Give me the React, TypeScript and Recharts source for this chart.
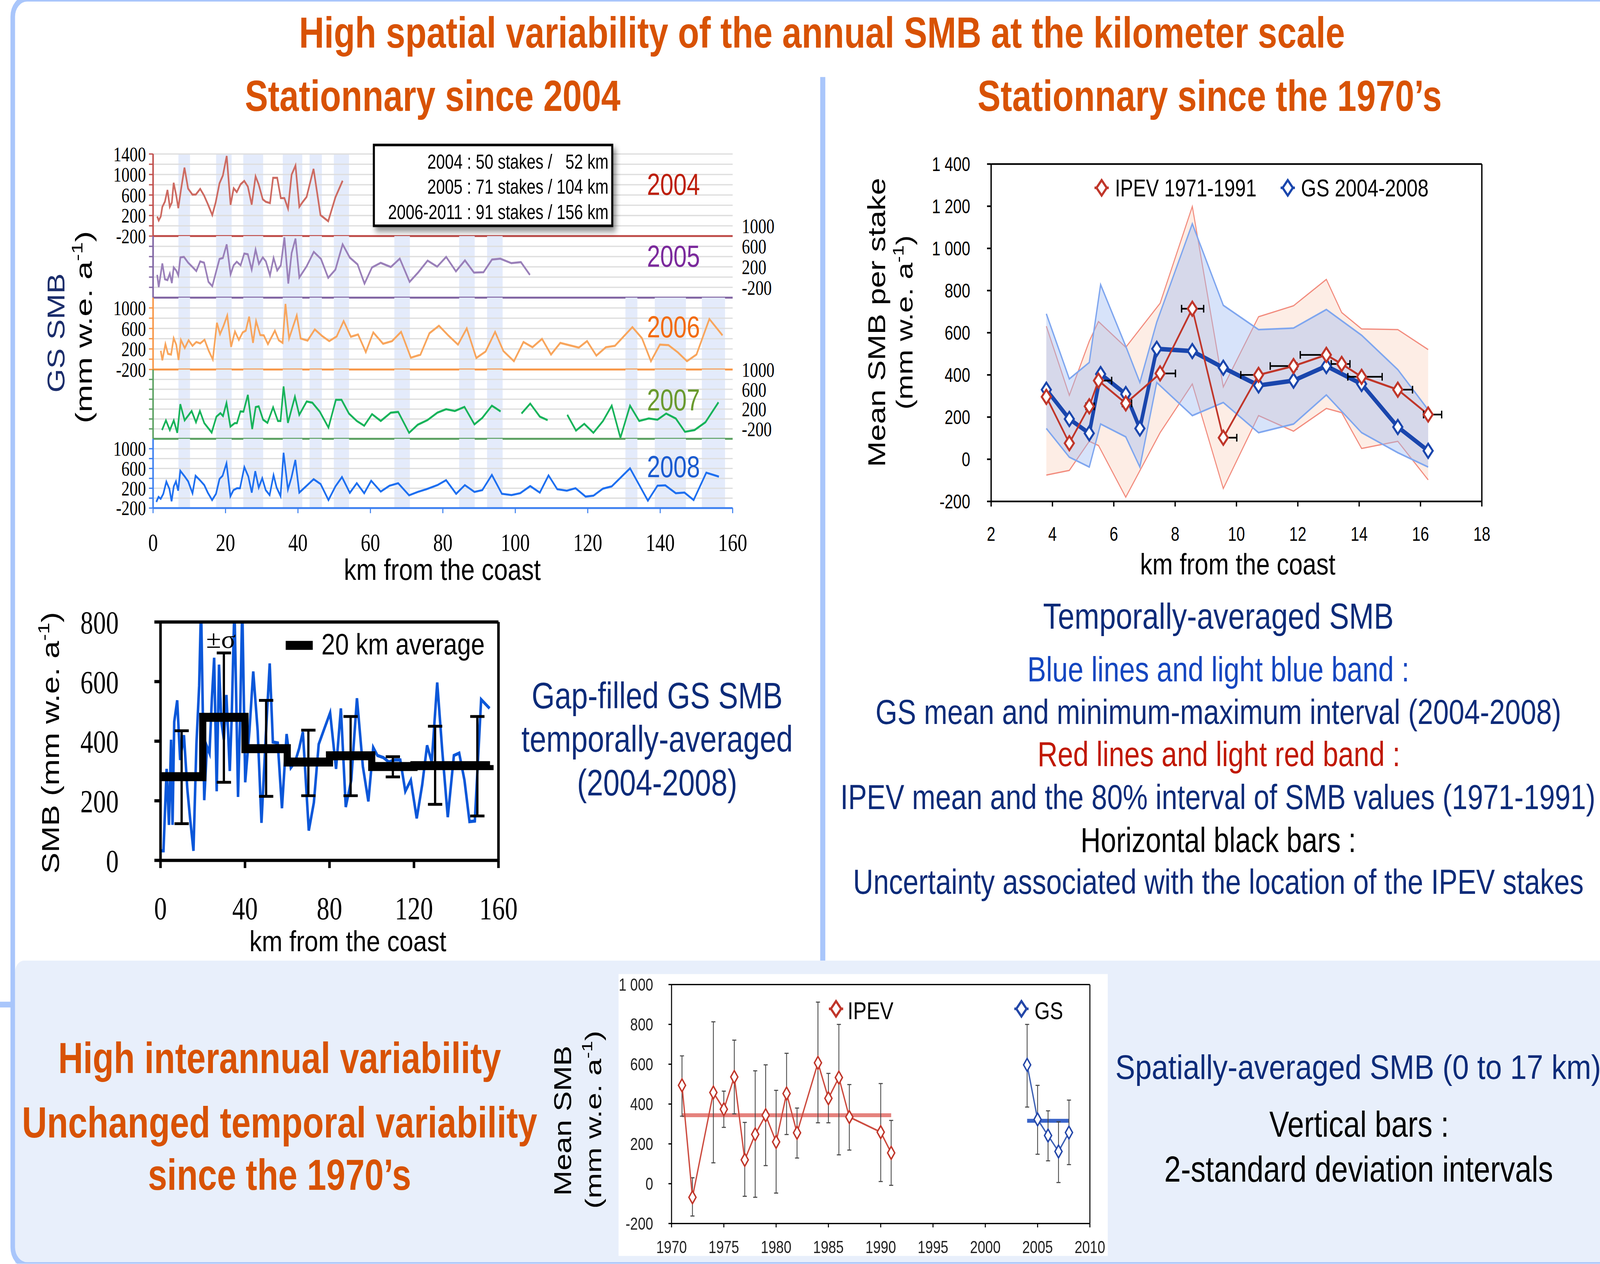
import React from "react";
import {
  Area,
  ComposedChart,
  ErrorBar,
  Line,
  LineChart,
  ReferenceArea,
  ReferenceLine,
  Scatter,
  XAxis,
  YAxis,
} from "recharts";

// the poster is laid out on a 1568 x 985 grid and scaled up to the window
const BASE_W = 1568;
const BASE_H = 985.2;
const SANS = '"Liberation Sans", Arial, Helvetica, sans-serif';
const SERIF = '"Liberation Serif", "Times New Roman", Times, serif';
const ORANGE = "#d85204";
const NAVY = "#0c2b79";
const FRAME = "#a9c6fb";
const BAND = "#e4ebfb";

// ---- GS stake profiles (km from the coast / SMB mm w.e. a-1)
const km2004 = [1.14, 1.56, 2.13, 2.56, 3.27, 3.98, 4.62, 5.19, 5.69, 6.4, 6.97, 7.68, 8.67, 9.67, 10.88, 11.8, 13.01, 14.08, 15.14, 16.35, 17.28, 18.34, 19.27, 20.33, 21.4, 22.25, 23.11, 24.17, 25.17, 26.16, 27.23, 28.3, 29.15, 30.29, 31.14, 32.28, 33.13, 34.27, 35.27, 36.26, 37.26, 38.25, 39.32, 40.38, 41.38, 42.38, 44.3, 46.22, 48.35, 50.34, 52.33];
const smb2004 = [182, 104, 182, 369, 471, 698, 369, 454, 838, 590, 345, 691, 1133, 725, 607, 610, 719, 590, 420, 209, 454, 827, 980, 1361, 410, 732, 658, 810, 875, 766, 413, 963, 807, 515, 467, 443, 936, 936, 539, 539, 335, 997, 1174, 369, 471, 562, 1109, 209, 90, 556, 878];

const km2005 = [1.14, 1.56, 2.56, 3.27, 3.98, 4.62, 5.19, 5.69, 6.4, 6.97, 7.54, 8.53, 9.67, 10.88, 11.94, 13.01, 14.08, 15.29, 16.35, 17.49, 18.34, 19.27, 20.33, 21.4, 22.25, 23.11, 24.17, 25.17, 26.16, 27.23, 28.3, 29.22, 30.29, 31.14, 32.28, 33.27, 34.27, 35.27, 36.26, 37.33, 38.25, 39.32, 40.38, 42.38, 44.37, 46.36, 48.35, 50.34, 52.33, 54.32, 56.45, 58.37, 60.44, 62.85, 65.63, 68.11, 70.82, 73.23, 75.79, 78.42, 80.91, 83.61, 86.1, 88.59, 91.22, 93.57, 95.85, 98.91, 101.54, 104.03];
const smb2005 = [44, -194, 265, -41, -58, 68, -116, 190, 129, 34, 384, 394, 282, 197, 119, 306, 282, -92, -177, 129, 353, 373, 638, 54, 231, 299, 231, 458, 445, 146, 536, 258, 384, 306, 34, 373, 129, 231, 774, -126, 469, 751, -7, 210, 492, 353, -14, 146, 638, 380, 248, -126, 190, 278, 197, 360, -92, 95, 322, 204, 394, 112, 326, 88, 95, 343, 360, 272, 292, 44];

const km2006 = [2.13, 2.56, 3.41, 4.12, 4.98, 5.69, 6.4, 7.04, 7.68, 8.75, 9.81, 10.88, 11.94, 13.01, 14.22, 15.36, 16.49, 17.63, 18.49, 19.41, 20.48, 21.54, 22.61, 23.68, 24.74, 25.6, 26.52, 27.59, 28.44, 29.58, 30.57, 31.71, 33.63, 34.7, 35.76, 36.55, 37.54, 39.67, 40.74, 42.66, 44.65, 46.64, 48.63, 50.69, 52.61, 54.6, 56.6, 58.73, 60.79, 63.49, 65.98, 68.47, 71.17, 73.8, 76.29, 78.92, 81.62, 84.18, 86.6, 89.23, 91.79, 94.42, 96.71, 99.62, 102.25, 104.74, 107.37, 109.86, 112.42, 114.83, 117.53, 119.81, 122.37, 125.0, 127.49, 132.32, 134.95, 137.44, 139.92, 142.27, 144.9, 147.39, 150.02, 153.57, 157.2];
const smb2006 = [166, -21, 295, 105, 92, 411, 285, -14, 377, 217, 370, 261, 336, 309, 380, 166, -4, 710, 489, 642, 853, 241, 540, 377, 523, 557, 829, 319, 744, 472, 465, 295, 557, 370, 319, 1077, 404, 853, 404, 363, 581, 455, 353, 445, 744, 438, 482, 139, 523, 302, 353, 533, 30, 88, 506, 652, 455, 285, 601, 24, 149, 533, 159, -38, 336, 234, 397, 92, 319, 275, 227, 353, 71, 234, 261, 625, 411, -38, 285, 275, 132, -38, 92, 784, 465];

const km2007 = [2.47, 3.55, 4.63, 5.72, 6.68, 7.52, 8.72, 10.65, 11.85, 12.93, 14.14, 16.18, 17.5, 18.59, 19.31, 20.27, 21.35, 22.56, 23.16, 24.12, 24.96, 26.17, 27.37, 28.33, 29.17, 30.38, 31.58, 33.14, 34.47, 35.19, 36.03, 37.23, 39.16, 40.36, 42.41, 43.97, 46.02, 48.42, 50.47, 52.03, 54.08, 56.24, 58.29, 60.45, 62.86, 65.62, 67.67, 70.68, 73.08, 75.73, 78.5, 80.9, 83.31, 85.96, 88.72, 90.89, 93.53, 95.94, 98.8, 101.71, 104.12, 106.77, 108.93, 111.6, 114.35, 116.75, 119.04, 121.56, 124.21, 126.62, 129.02, 131.67, 134.2, 136.84, 139.25, 141.65, 144.3, 146.83, 149.47, 152.48, 156.09];
const smb2007 = [-224, -28, -224, -28, -279, 299, -28, 161, -66, 161, -83, -274, 48, 118, 60, 324, -154, -83, -83, 153, 148, 487, -204, 241, 254, -15, -78, 236, -40, -40, 657, -78, 450, 85, 354, 329, 148, -174, 387, 387, 110, -40, -136, 98, -40, 128, 143, -279, -116, -23, 128, 198, 161, 244, -108, 22, 269, 153, null, 110, 311, 48, -23, null, 85, -234, -98, -279, -40, 269, -380, 269, -40, 10, -15, 110, 10, -259, -224, -66, 337];

const km2008 = [0.9, 1.51, 2.11, 2.83, 3.67, 4.51, 5.11, 5.72, 6.32, 6.92, 7.52, 8.72, 9.69, 10.89, 11.73, 12.93, 14.14, 15.1, 16.3, 17.38, 18.35, 19.19, 20.27, 21.35, 22.2, 23.16, 24.0, 25.2, 26.29, 27.25, 28.21, 29.17, 30.14, 31.1, 32.18, 33.26, 34.11, 35.19, 36.03, 37.23, 38.2, 39.28, 40.36, 42.41, 44.33, 46.26, 48.42, 50.35, 52.15, 54.32, 56.24, 58.29, 60.21, 62.86, 65.26, 67.67, 70.68, 73.08, 75.49, 78.5, 80.9, 83.67, 86.07, 88.72, 90.89, 93.53, 96.3, 98.95, 101.35, 104.12, 106.77, 109.17, 111.58, 114.23, 116.63, 119.4, 121.56, 124.21, 126.62, 131.67, 136.6, 139.25, 141.41, 144.3, 146.7, 149.23, 152.72, 156.21];
const smb2008 = [-76, 25, -13, 88, 334, 188, -63, 239, 339, 151, 553, 440, 339, 100, 452, 364, 264, 113, -38, 88, 389, 452, 704, 38, 163, 201, 201, 628, 440, 113, 545, 214, 402, 163, 63, 465, 214, 43, 917, 176, 415, 772, 113, 251, 384, 284, -38, 239, 427, 108, 302, 100, 352, 133, 251, 302, 58, 126, 181, 264, 364, 88, 264, 126, 163, 470, 88, 63, 100, 244, 113, 460, 181, 151, 201, 32, 50, 193, 239, 603, -50, 251, 259, 100, 113, -38, 515, 435];

const kmTicks = [0, 20, 40, 60, 80, 100, 120, 140, 160];
// shaded stretches of the traverse (km)
const bandsAll = [[7.0, 10.2], [17.4, 21.7], [24.9, 30.4], [35.8, 41.2], [43.2, 46.6], [49.9, 54.1]];
const bands2005 = [[66.6, 70.9], [84.5, 88.8], [92.2, 96.5]];
const bands2006 = [[130.4, 133.7], [138.5, 147.1], [151.5, 157.9]];

// ---- gap-filled, temporally averaged GS SMB
const kmGap = [0.3, 1.4, 2.9, 4.0, 5.0, 5.7, 6.5, 7.9, 9.3, 11.1, 12.7, 14.1, 15.6, 17.0, 18.3, 19.2, 20.7, 22.0, 23.2, 24.3, 25.4, 26.6, 27.7, 28.8, 30.0, 31.2, 32.8, 33.7, 35.0, 36.7, 37.7, 38.7, 40.1, 42.1, 43.9, 46.0, 47.8, 49.8, 51.7, 53.2, 55.5, 57.5, 59.7, 61.7, 63.7, 65.6, 67.4, 70.2, 72.6, 74.9, 77.2, 80.3, 83.1, 85.4, 87.7, 90.3, 93.0, 95.8, 98.4, 100.7, 102.7, 105.5, 108.1, 110.8, 113.5, 115.9, 118.5, 121.3, 123.9, 126.2, 128.4, 131.0, 133.4, 136.0, 138.9, 141.4, 143.9, 146.3, 148.8, 151.8, 155.8];
const smbGap = [32, 32, 307, 119, 405, 119, 465, 537, 337, 420, 239, 134, 32, 390, 586, 860, 202, 382, 360, 540, 680, 232, 657, 465, 405, 555, 300, 480, 860, 213, 480, 860, 262, 435, 634, 435, 126, 412, 661, 397, 394, 175, 424, 311, 330, 375, 431, 100, 194, 390, 435, 495, 307, 510, 179, 269, 544, 315, 198, 379, 352, 345, 330, 337, 337, 232, 269, 141, 254, 386, 330, 597, 367, 145, 352, 360, 269, 130, 132, 540, 510];
const stepKm = [0, 20, 40, 60, 80, 100, 120, 156];
const stepSmb = [281, 480, 375, 330, 351, 315, 318, 320];
const sigmaKm = [10, 30, 50, 70, 90, 110, 130, 150];
const sigmaLow = [123, 262, 215, 217, 217, 280, 188, 149];
const sigmaHigh = [435, 696, 537, 437, 483, 348, 450, 483];

// ---- IPEV (1971-1991) vs GS (2004-2008) per stake
const ipevKm = [3.8, 4.55, 5.2, 5.5, 6.39, 7.51, 8.56, 9.57, 10.72, 11.86, 12.93, 13.43, 14.08, 15.26, 16.25];
const ipevMean = [296, 76, 251, 373, 265, 407, 714, 102, 400, 442, 495, 452, 391, 330, 212];
const ipevP10 = [-75, -53, 85, 65, -180, 126, 357, -139, 207, 133, 241, 221, 51, 85, -98];
const ipevP90 = [631, 303, 560, 653, 531, 740, 1199, 343, 676, 728, 853, 696, 618, 615, 520];
const ipevKmLo = [null, null, 5.09, 5.43, 6.28, 7.42, 8.21, 9.51, 10.14, 11.1, 12.08, 13.09, 13.63, 15.26, 16.1];
const ipevKmHi = [null, null, 5.36, 5.93, 6.58, 8.01, 8.93, 10.01, 10.79, 11.97, 13.0, 13.7, 14.75, 15.74, 16.69];
const gsKm = [3.8, 4.55, 5.2, 5.57, 6.39, 6.85, 7.4, 8.56, 9.57, 10.72, 11.86, 12.93, 14.08, 15.26, 16.25];
const gsMean = [330, 191, 123, 404, 309, 146, 524, 513, 434, 350, 373, 442, 357, 153, 40];
const gsMin = [146, 10, -37, 167, 106, -37, 364, 207, 269, 126, 167, 305, 126, 31, -37];
const gsMax = [690, 381, 459, 828, 536, 364, 650, 1117, 730, 615, 622, 710, 588, 425, 235];

// ---- spatially averaged SMB per year
const ipevYears = [1971, 1972, 1974, 1975, 1976, 1977, 1978, 1979, 1980, 1981, 1982, 1984, 1985, 1986, 1987, 1990, 1991];
const ipevSmb = [494, -68, 458, 374, 536, 120, 248, 344, 210, 453, 256, 607, 429, 533, 335, 259, 155];
const ipevLow = [339, -162, 105, 283, 351, -63, -68, 91, -47, 247, 129, 306, 306, 145, 169, 11, -8];
const ipevHigh = [642, 30, 813, 465, 721, 308, 567, 597, 469, 655, 380, 912, 554, 800, 498, 503, 318];
const ipevAvg = 344;
const gsYears = [2004, 2005, 2006, 2007, 2008];
const gsSmb = [597, 323, 242, 162, 257];
const gsLow = [385, 148, 115, 6, 96];
const gsHigh = [800, 494, 366, 311, 420];
const gsAvg = 316;

const spaced = (v: number) => (Math.abs(v) >= 1000 ? String(v).replace(/(\d)(\d{3})$/, "$1 $2") : String(v));

const diamond = (color: string, hw: number, hh: number, sw: number) => (props: any) => {
  const { cx, cy, index } = props;
  if (cx == null || cy == null) return <g key={index} />;
  return (
    <path
      key={index}
      d={`M${cx},${cy - hh}L${cx + hw},${cy}L${cx},${cy + hh}L${cx - hw},${cy}Z`}
      fill="#fff"
      stroke={color}
      strokeWidth={sw}
    />
  );
};

const leftTick = (labels: number[]) => (props: any) => {
  const { x, y, payload } = props;
  if (!labels.includes(payload.value)) return <g />;
  return (
    <text x={x} y={y} dy="0.35em" textAnchor="end" fontSize={16} fontFamily={SERIF} fill="#000">
      {payload.value}
    </text>
  );
};

const range = (a: number, b: number, s: number) => {
  const out: number[] = [];
  for (let v = a; v <= b; v += s) out.push(v);
  return out;
};

const panels = [
  { year: "2004", km: km2004, smb: smb2004, top: 120, bottom: 184, domain: [-200, 1400], panelTop: 1400, grid: range(0, 1400, 200), ticks: range(-200, 1400, 200), left: [1400, 1000, 600, 200, -200], right: [] as number[], axis: "#c0504d", line: "#cd6a61", bands: bandsAll },
  { year: "2005", km: km2005, smb: smb2005, top: 176, bottom: 232, domain: [-400, 1000], panelTop: 800, grid: range(-200, 600, 200), ticks: range(-200, 600, 200), left: [], right: [-200, 200, 600, 1000], axis: "#8064a2", line: "#9a80b9", bands: [...bandsAll, ...bands2005] },
  { year: "2006", km: km2006, smb: smb2006, top: 232, bottom: 288, domain: [-200, 1200], panelTop: 1200, grid: range(0, 1000, 200), ticks: range(-200, 1000, 200), left: [1000, 600, 200, -200], right: [], axis: "#f79646", line: "#f8a55c", bands: [...bandsAll, ...bands2005, ...bands2006] },
  { year: "2007", km: km2007, smb: smb2007, top: 288, bottom: 342, domain: [-400, 1000], panelTop: 1000, grid: range(-200, 800, 200), ticks: range(-200, 800, 200), left: [], right: [-200, 200, 600, 1000], axis: "#5aa060", line: "#17b35a", bands: [...bandsAll, ...bands2005, ...bands2006] },
  { year: "2008", km: km2008, smb: smb2008, top: 342, bottom: 396, domain: [-200, 1200], panelTop: 1200, grid: range(0, 1000, 200), ticks: range(-200, 1000, 200), left: [1000, 600, 200, -200], right: [], axis: "#3b7ff0", line: "#1e6ff0", bands: [...bandsAll, ...bands2005, ...bands2006] },
];

const PAD = 12; // room above each stacked panel for its top tick label

function StakePanel({ p }: { p: any }) {
  const last = p.year === "2008";
  const xh = last ? 40 : 12;
  const data = p.km.map((km: number, i: number) => ({ km, v: p.smb[i] }));
  const h = p.bottom - p.top + PAD + xh;
  return (
    <div style={{ position: "absolute", left: 90, top: p.top - PAD }}>
      <LineChart width={690} height={h} margin={{ top: PAD, right: 0, bottom: 0, left: 0 }}>
        <XAxis
          type="number"
          dataKey="km"
          domain={[0, 160]}
          ticks={kmTicks}
          interval={0}
          height={xh}
          tickSize={4}
          tickMargin={16}
          axisLine={{ stroke: p.axis, strokeWidth: 1.5 }}
          tickLine={{ stroke: p.axis, strokeWidth: 1 }}
          tick={last ? { fontSize: 19, fontFamily: SERIF, fill: "#000" } : false}
        />
        <YAxis
          domain={p.domain}
          ticks={p.ticks}
          interval={0}
          allowDataOverflow
          width={60}
          axisLine={false}
          tickSize={4}
          tickMargin={3}
          tickLine={{ stroke: p.axis, strokeWidth: 1 }}
          tick={leftTick(p.left)}
        />
        <YAxis
          yAxisId="r"
          orientation="right"
          domain={p.domain}
          ticks={p.right.length ? p.right : [p.domain[0]]}
          interval={0}
          allowDataOverflow
          width={62}
          axisLine={false}
          tickLine={false}
          tickSize={0}
          tickMargin={9}
          tick={p.right.length ? { fontSize: 16, fontFamily: SERIF, fill: "#000" } : false}
        />
        {p.bands.map(([a, b]: number[]) => (
          <ReferenceArea key={a} x1={a} x2={b} y1={p.domain[0]} y2={p.panelTop} fill={BAND} fillOpacity={1} stroke="none" />
        ))}
        {p.grid.map((g: number) => (
          <ReferenceLine key={g} y={g} stroke="#dedede" strokeWidth={1} />
        ))}
        <Line data={data} dataKey="v" stroke={p.line} strokeWidth={1.6} dot={false} activeDot={false} isAnimationActive={false} />
        <ReferenceLine segment={[{ x: 0, y: p.domain[0] }, { x: 0, y: p.panelTop }]} stroke={p.axis} strokeWidth={1.5} />
      </LineChart>
    </div>
  );
}

function GapFilledChart() {
  const line = kmGap.map((km, i) => ({ km, v: smbGap[i] }));
  const steps = stepKm.map((km, i) => ({ km, v: stepSmb[i] }));
  const bars = sigmaKm.map((km, i) => ({ km, v: (sigmaLow[i] + sigmaHigh[i]) / 2, err: (sigmaHigh[i] - sigmaLow[i]) / 2 }));
  const axisStyle = { stroke: "#000", strokeWidth: 2.5 };
  return (
    <div style={{ position: "absolute", left: 60, top: 460 }}>
      <ComposedChart width={460} height={270} margin={{ top: 24.8, right: 31.5, bottom: 0, left: 0 }}>
        <XAxis type="number" dataKey="km" domain={[0, 160]} ticks={[0, 40, 80, 120, 160]} interval={0} height={59.4} tickSize={6} tickMargin={22} axisLine={axisStyle} tickLine={axisStyle} tick={{ fontSize: 25, fontFamily: SERIF, fill: "#000" }} />
        <YAxis domain={[0, 800]} ticks={[0, 200, 400, 600, 800]} interval={0} allowDataOverflow width={97.3} tickSize={6} tickMargin={35} axisLine={axisStyle} tickLine={axisStyle} tick={{ fontSize: 25, fontFamily: SERIF, fill: "#000" }} />
        <Line data={line} dataKey="v" stroke="#0b57d9" strokeWidth={2.5} dot={false} activeDot={false} isAnimationActive={false} />
        <Line data={steps} dataKey="v" type="stepAfter" stroke="#000" strokeWidth={7} strokeLinejoin="miter" dot={false} activeDot={false} isAnimationActive={false} />
        <Scatter data={bars} dataKey="v" shape={() => <g />} isAnimationActive={false}>
          <ErrorBar dataKey="err" direction="y" width={7} stroke="#000" strokeWidth={2.2} />
        </Scatter>
        <ReferenceLine y={800} stroke="#000" strokeWidth={2.5} />
        <ReferenceLine x={160} stroke="#000" strokeWidth={2.5} />
      </ComposedChart>
    </div>
  );
}

function StakeMeanChart() {
  const ipevBand = ipevKm.map((km, i) => ({ km, range: [ipevP10[i], ipevP90[i]] }));
  const gsBand = gsKm.map((km, i) => ({ km, range: [gsMin[i], gsMax[i]] }));
  const ipev = ipevKm.map((km, i) => ({ km, v: ipevMean[i] }));
  const gs = gsKm.map((km, i) => ({ km, v: gsMean[i] }));
  const xerr = ipevKm
    .map((km, i) => (ipevKmLo[i] == null ? null : { km, v: ipevMean[i], err: [km - (ipevKmLo[i] as number), (ipevKmHi[i] as number) - km] }))
    .filter(Boolean);
  const ax = { stroke: "#000", strokeWidth: 1.3 };
  const tk = { fontSize: 15, fontFamily: SANS, fill: "#000" };
  return (
    <div style={{ position: "absolute", left: 900, top: 110 }}>
      <ComposedChart width={570} height={345} margin={{ top: 17.9, right: 17.8, bottom: 0, left: 0 }}>
        <XAxis type="number" dataKey="km" domain={[2, 18]} ticks={range(2, 18, 2)} interval={0} height={64.2} tickSize={4} tickMargin={16} axisLine={ax} tickLine={ax} tick={tk} />
        <XAxis xAxisId="top" orientation="top" mirror type="number" domain={[2, 18]} allowDataOverflow ticks={range(2, 18, 2)} interval={0} height={0} tickSize={4} axisLine={false} tickLine={ax} tick={false} />
        <YAxis domain={[-200, 1400]} ticks={range(-200, 1400, 200)} interval={0} allowDataOverflow width={71.3} tickSize={4} tickMargin={16.5} axisLine={ax} tickLine={ax} tick={tk} tickFormatter={spaced} />
        <YAxis yAxisId="right" orientation="right" mirror domain={[-200, 1400]} allowDataOverflow ticks={range(-200, 1400, 200)} interval={0} width={0} tickSize={4} axisLine={false} tickLine={ax} tick={false} />
        <Area data={ipevBand} dataKey="range" type="linear" stroke="#f28b7d" strokeWidth={1} fill="#fbe1d4" fillOpacity={0.6} dot={false} activeDot={false} isAnimationActive={false} />
        <Area data={gsBand} dataKey="range" type="linear" stroke="#7fa6ef" strokeWidth={1.3} fill="#9ab8f3" fillOpacity={0.4} dot={false} activeDot={false} isAnimationActive={false} />
        <Line data={gs} dataKey="v" stroke="#1a46ad" strokeWidth={3.5} dot={diamond("#1a46ad", 4.5, 5.5, 1.8)} activeDot={false} isAnimationActive={false} />
        <Line data={ipev} dataKey="v" stroke="#c0362a" strokeWidth={1.6} dot={diamond("#c0362a", 4.5, 5.5, 1.8)} activeDot={false} isAnimationActive={false} />
        <Scatter data={xerr} dataKey="v" shape={() => <g />} isAnimationActive={false}>
          <ErrorBar dataKey="err" direction="x" width={3} stroke="#000" strokeWidth={1.3} />
        </Scatter>
        <ReferenceLine y={1400} stroke="#000" strokeWidth={1.3} />
        <ReferenceLine x={18} stroke="#000" strokeWidth={1.3} />
      </ComposedChart>
    </div>
  );
}

function YearlyChart() {
  const ipev = ipevYears.map((year, i) => ({ year, v: ipevSmb[i], err: [ipevSmb[i] - ipevLow[i], ipevHigh[i] - ipevSmb[i]] }));
  const gs = gsYears.map((year, i) => ({ year, v: gsSmb[i], err: [gsSmb[i] - gsLow[i], gsHigh[i] - gsSmb[i]] }));
  const ipevMeanLine = [ipevYears[0], ipevYears[ipevYears.length - 1]].map((year) => ({ year, v: ipevAvg }));
  const gsMeanLine = [gsYears[0], gsYears[gsYears.length - 1]].map((year) => ({ year, v: gsAvg }));
  const ax = { stroke: "#000", strokeWidth: 1 };
  const tk = { fontSize: 13.5, fontFamily: SANS, fill: "#222" };
  // the white card behind this chart is drawn in the backdrop; the svg runs a bit lower so tick labels are not clipped
  return (
    <div style={{ position: "absolute", left: 606.2, top: 759.2 }}>
      <ComposedChart width={479.4} height={234.7} margin={{ top: 8.4, right: 17.3, bottom: 0, left: 0 }}>
        <XAxis type="number" dataKey="year" domain={[1970, 2010]} ticks={range(1970, 2010, 5)} interval={0} height={40} tickSize={3} tickMargin={10.5} axisLine={ax} tickLine={ax} tick={tk} />
        <XAxis xAxisId="top" orientation="top" mirror type="number" domain={[1970, 2010]} allowDataOverflow ticks={range(1970, 2010, 5)} interval={0} height={0} tickSize={3} axisLine={false} tickLine={ax} tick={false} />
        <YAxis domain={[-200, 1000]} ticks={range(-200, 1000, 200)} interval={0} allowDataOverflow width={52.1} tickSize={3} tickMargin={15} axisLine={ax} tickLine={ax} tick={tk} tickFormatter={spaced} />
        <YAxis yAxisId="right" orientation="right" mirror domain={[-200, 1000]} allowDataOverflow ticks={range(-200, 1000, 200)} interval={0} width={0} tickSize={3} axisLine={false} tickLine={ax} tick={false} />
        <Line data={ipevMeanLine} dataKey="v" stroke="#e06c66" strokeWidth={3} strokeOpacity={0.85} dot={false} activeDot={false} isAnimationActive={false} />
        <Line data={gsMeanLine} dataKey="v" stroke="#3a64c8" strokeWidth={3} dot={false} activeDot={false} isAnimationActive={false} />
        <Line data={ipev} dataKey="v" stroke="#cc4b3f" strokeWidth={1.3} dot={diamond("#c0362a", 3.5, 5, 1.3)} activeDot={false} isAnimationActive={false}>
          <ErrorBar dataKey="err" direction="y" width={2} stroke="#444" strokeWidth={0.8} />
        </Line>
        <Line data={gs} dataKey="v" stroke="#3f62b5" strokeWidth={1.3} dot={diamond("#2447a8", 3.5, 5, 1.3)} activeDot={false} isAnimationActive={false}>
          <ErrorBar dataKey="err" direction="y" width={2} stroke="#444" strokeWidth={0.8} />
        </Line>
        <ReferenceLine y={1000} stroke="#000" strokeWidth={1} />
        <ReferenceLine x={2010} stroke="#000" strokeWidth={1} />
      </ComposedChart>
    </div>
  );
}

type TxtProps = {
  x: number;
  y: number;
  s: number;
  c?: string;
  b?: boolean;
  a?: "start" | "middle" | "end";
  w?: number;
  f?: string;
  r?: boolean;
  children: React.ReactNode;
};

function Txt({ x, y, s, c = "#000", b = false, a = "middle", w, f = SANS, r = false, children }: TxtProps) {
  return (
    <text
      x={r ? 0 : x}
      y={r ? 0 : y}
      transform={r ? `translate(${x},${y}) rotate(-90)` : undefined}
      fontSize={s}
      fill={c}
      fontWeight={b ? "bold" : "normal"}
      textAnchor={a}
      fontFamily={f}
      textLength={w}
      lengthAdjust={w ? "spacingAndGlyphs" : undefined}
      style={{ whiteSpace: "pre" }}
    >
      {children}
    </text>
  );
}

const Unit = ({ s, pre = "(mm w.e. a" }: { s: number; pre?: string }) => (
  <>
    {pre}
    <tspan dy={-s * 0.4} fontSize={s * 0.65}>
      -1
    </tspan>
    <tspan dy={s * 0.4}>)</tspan>
  </>
);

const LegendDiamond = ({ x, y, c }: { x: number; y: number; c: string }) => (
  <g>
    <line x1={x - 7} x2={x + 7} y1={y} y2={y} stroke={c} strokeWidth={2} />
    <path d={`M${x},${y - 6}L${x + 5},${y}L${x},${y + 6}L${x - 5},${y}Z`} fill="#fff" stroke={c} strokeWidth={2} />
  </g>
);

function Backdrop() {
  return (
    <svg width={BASE_W} height={BASE_H} style={{ position: "absolute", left: 0, top: 0 }}>
      <rect x={14.75} y={748.7} width={1600} height={300} rx={9} fill="#e8effb" />
      <rect x={606.2} y={759.2} width={479.4} height={219.7} fill="#fff" />
      <rect x={12.5} y={-1} width={1600} height={987} rx={14} fill="none" stroke={FRAME} strokeWidth={4.5} />
      <line x1={806.3} y1={60} x2={806.3} y2={748.7} stroke={FRAME} strokeWidth={5} />
      <line x1={0} y1={783} x2={12.5} y2={783} stroke={FRAME} strokeWidth={4.5} />
    </svg>
  );
}

function Overlay() {
  const yearColors = ["#bd1f0c", "#7b2a9c", "#f26b0f", "#6a9a2f", "#1a5bd0"];
  const yearBase = [152, 208, 263, 320, 372];
  return (
    <svg width={BASE_W} height={BASE_H} style={{ position: "absolute", left: 0, top: 0, pointerEvents: "none" }}>
      <defs>
        <filter id="shadow" x="-10%" y="-20%" width="130%" height="150%">
          <feDropShadow dx="2.5" dy="3.5" stdDeviation="2.5" floodColor="#000" floodOpacity="0.45" />
        </filter>
      </defs>

      <Txt x={805.5} y={37} s={34} c={ORANGE} b w={1025}>High spatial variability of the annual SMB at the kilometer scale</Txt>
      <Txt x={424} y={86.5} s={34} c={ORANGE} b w={368}>Stationnary since 2004</Txt>
      <Txt x={1185.5} y={86.5} s={34} c={ORANGE} b w={455}>Stationnary since the 1970’s</Txt>

      {/* stacked yearly profiles */}
      <Txt x={63} y={259.5} s={24} c="#1b2d6b" r w={93}>GS SMB</Txt>
      <Txt x={90} y={255} s={23} r w={150}><Unit s={23} /></Txt>
      <Txt x={433.5} y={452} s={23} w={193}>km from the coast</Txt>
      {panels.map((p, i) => (
        <Txt key={p.year} x={634} y={yearBase[i]} s={23.5} c={yearColors[i]} a="start" w={52}>{p.year}</Txt>
      ))}
      <rect x={366.4} y={113} width={233.6} height={63} fill="#fff" stroke="#000" strokeWidth={2} filter="url(#shadow)" />
      <Txt x={596.3} y={131.4} s={15.5} a="end">2004 : 50 stakes /   52 km</Txt>
      <Txt x={596.3} y={151.1} s={15.5} a="end">2005 : 71 stakes / 104 km</Txt>
      <Txt x={596.3} y={170.8} s={15.5} a="end">2006-2011 : 91 stakes / 156 km</Txt>

      {/* gap-filled chart */}
      <Txt x={57.7} y={579} s={24} r w={204}><Unit s={24} pre="SMB (mm w.e. a" /></Txt>
      <Txt x={340.9} y={741.5} s={22.5} w={193}>km from the coast</Txt>
      <line x1={280} x2={306.5} y1={503} y2={503} stroke="#000" strokeWidth={7} />
      <Txt x={315} y={510} s={23} a="start" w={160}>20 km average</Txt>
      <Txt x={202} y={505} s={20} a="start" f={SERIF} w={29}>±σ</Txt>
      <Txt x={644} y={552} s={28.5} c={NAVY} w={246}>Gap-filled GS SMB</Txt>
      <Txt x={644} y={586} s={28.5} c={NAVY} w={266}>temporally-averaged</Txt>
      <Txt x={644} y={620} s={28.5} c={NAVY} w={157}>(2004-2008)</Txt>

      {/* per-stake comparison */}
      <Txt x={867.5} y={251.3} s={24} r w={225.4}>Mean SMB per stake</Txt>
      <Txt x={894.4} y={251.3} s={22.5} r w={136}><Unit s={22.5} /></Txt>
      <Txt x={1213} y={447.7} s={23} w={191.5}>km from the coast</Txt>
      <LegendDiamond x={1079.6} y={146.4} c="#c0362a" />
      <Txt x={1092.6} y={153.1} s={19} a="start" w={138.8}>IPEV 1971-1991</Txt>
      <LegendDiamond x={1262} y={146.4} c="#1a46ad" />
      <Txt x={1275} y={153.1} s={19} a="start" w={125}>GS 2004-2008</Txt>

      <Txt x={1194} y={490} s={28} c={NAVY} w={343.6}>Temporally-averaged SMB</Txt>
      <Txt x={1194} y={531.2} s={27} c="#1446c0" w={374.4}>Blue lines and light blue band :</Txt>
      <Txt x={1194} y={564.2} s={27} c={NAVY} w={672}>GS mean and minimum-maximum interval (2004-2008)</Txt>
      <Txt x={1194.5} y={597.2} s={27} c="#c01800" w={355.5}>Red lines and light red band :</Txt>
      <Txt x={1193.5} y={630.7} s={27} c={NAVY} w={740}>IPEV mean and the 80% interval of SMB values (1971-1991)</Txt>
      <Txt x={1194} y={664} s={27} w={270}>Horizontal black bars :</Txt>
      <Txt x={1194} y={696.7} s={27} c={NAVY} w={716}>Uncertainty associated with the location of the IPEV stakes</Txt>

      {/* bottom panel */}
      <Txt x={274} y={836.4} s={34} c={ORANGE} b w={434}>High interannual variability</Txt>
      <Txt x={274} y={886.5} s={34} c={ORANGE} b w={505}>Unchanged temporal variability</Txt>
      <Txt x={274} y={927.4} s={34} c={ORANGE} b w={258}>since the 1970’s</Txt>
      <Txt x={559.5} y={873.5} s={24} r w={117}>Mean SMB</Txt>
      <Txt x={589} y={872.7} s={22} r w={138.8}><Unit s={22} /></Txt>
      <LegendDiamond x={819.3} y={786.3} c="#c0362a" />
      <Txt x={830.6} y={794.5} s={19} a="start" w={45}>IPEV</Txt>
      <LegendDiamond x={1001} y={786.3} c="#2447a8" />
      <Txt x={1013.8} y={794.5} s={19} a="start" w={28}>GS</Txt>
      <Txt x={1093} y={841} s={26.5} c={NAVY} a="start" w={476}>Spatially-averaged SMB (0 to 17 km)</Txt>
      <Txt x={1332} y={886} s={28} w={176}>Vertical bars :</Txt>
      <Txt x={1331.5} y={921} s={28} w={381}>2-standard deviation intervals</Txt>
    </svg>
  );
}

export default function App() {
  // fill whatever CSS viewport the window really has (it may be narrower than asked)
  const vw = typeof window !== "undefined" && window.innerWidth ? window.innerWidth : 5152;
  const vh = typeof window !== "undefined" && window.innerHeight ? window.innerHeight : 3237;
  const sx = vw / BASE_W;
  const sy = vh / BASE_H;
  return (
    <div
      style={{
        position: "absolute",
        left: 0,
        top: 0,
        width: BASE_W,
        height: BASE_H,
        transform: `scale(${sx}, ${sy})`,
        transformOrigin: "0 0",
        background: "#fff",
        overflow: "hidden",
        fontFamily: SANS,
      }}
    >
      <style>{"html,body{margin:0;overflow:hidden;background:#fff}"}</style>
      <Backdrop />
      {panels.map((p) => (
        <StakePanel key={p.year} p={p} />
      ))}
      <GapFilledChart />
      <StakeMeanChart />
      <YearlyChart />
      <Overlay />
    </div>
  );
}
